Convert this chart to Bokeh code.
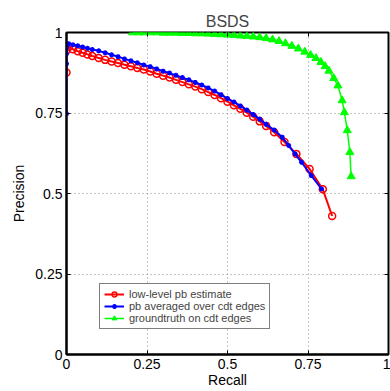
from bokeh.plotting import figure
from bokeh.models import LinearAxis, FixedTicker, Range1d, Legend, LegendItem
from bokeh.embed import file_html
from bokeh.resources import INLINE

# ---- data ----
red_recall = [0.0, 0.0, 0.007, 0.02, 0.035, 0.05, 0.065, 0.08, 0.10, 0.12, 0.14, 0.16, 0.18, 0.20,
              0.22, 0.24, 0.26, 0.28, 0.30, 0.32, 0.34, 0.36, 0.38, 0.40, 0.42, 0.44, 0.46, 0.48,
              0.50, 0.52, 0.54, 0.56, 0.58, 0.60, 0.62, 0.645, 0.677, 0.714, 0.755, 0.796, 0.825]
red_precision = [0.876, 0.944, 0.955, 0.948, 0.942, 0.937, 0.932, 0.927, 0.921, 0.915, 0.910, 0.905,
                 0.900, 0.895, 0.890, 0.885, 0.879, 0.872, 0.866, 0.860, 0.853, 0.846, 0.839, 0.832,
                 0.824, 0.815, 0.806, 0.796, 0.785, 0.774, 0.763, 0.751, 0.738, 0.724, 0.710, 0.690,
                 0.660, 0.623, 0.576, 0.513, 0.430]

blue_recall = [0.0, 0.0, 0.0, 0.007, 0.02, 0.035, 0.05, 0.065, 0.08, 0.10, 0.12, 0.14, 0.16, 0.18,
               0.20, 0.22, 0.24, 0.26, 0.28, 0.30, 0.32, 0.34, 0.36, 0.38, 0.40, 0.42, 0.44, 0.46,
               0.48, 0.50, 0.52, 0.54, 0.56, 0.58, 0.60, 0.62, 0.645, 0.67, 0.69, 0.71, 0.73, 0.76,
               0.792]
blue_precision = [0.748, 0.903, 0.934, 0.965, 0.962, 0.959, 0.955, 0.951, 0.947, 0.943, 0.937, 0.931,
                  0.925, 0.918, 0.912, 0.906, 0.899, 0.894, 0.887, 0.880, 0.874, 0.867, 0.860, 0.853,
                  0.845, 0.837, 0.828, 0.818, 0.807, 0.795, 0.784, 0.772, 0.759, 0.745, 0.731, 0.715,
                  0.697, 0.675, 0.649, 0.623, 0.597, 0.556, 0.514]

green_recall = [0.205, 0.225, 0.24, 0.26, 0.28, 0.30, 0.32, 0.34, 0.36, 0.38, 0.40, 0.42, 0.44, 0.46,
                0.48, 0.50, 0.52, 0.54, 0.56, 0.58, 0.60, 0.62, 0.64, 0.66, 0.68, 0.70, 0.72, 0.74,
                0.758, 0.775, 0.79, 0.803, 0.815, 0.83, 0.843, 0.856, 0.863, 0.872, 0.880, 0.884]
green_precision = [1.0, 1.0, 1.0, 1.0, 1.0, 0.999, 0.999, 0.999, 0.998, 0.998, 0.997, 0.997, 0.996,
                   0.995, 0.994, 0.993, 0.992, 0.990, 0.989, 0.987, 0.985, 0.982, 0.978, 0.973, 0.966,
                   0.958, 0.950, 0.940, 0.930, 0.920, 0.908, 0.895, 0.881, 0.858, 0.835, 0.789, 0.752,
                   0.696, 0.628, 0.553]

tick_values = [0, 0.25, 0.5, 0.75, 1]
tick_labels = ["0", "0.25", "0.5", "0.75", "1"]

series_labels = ["low-level pb estimate", "pb averaged over cdt edges", "groundtruth on cdt edges"]

FONT = "Liberation Sans"

p = figure(width=390, height=391, output_backend="svg", toolbar_location=None,
           x_range=Range1d(0, 1), y_range=Range1d(0, 1),
           min_border_left=66, min_border_right=2, min_border_top=32, min_border_bottom=37,
           title="BSDS")
p.background_fill_color = "white"
p.border_fill_color = "white"
p.outline_line_color = "black"
p.outline_line_width = 2

p.title.align = "center"
p.title.vertical_align = "middle"
p.title.text_font = FONT
p.title.text_font_size = "16px"
p.title.text_font_style = "normal"
p.title.standoff = 4

overrides = {v: l for v, l in zip(tick_values, tick_labels)}

for ax in (p.xaxis[0], p.yaxis[0]):
    ax.ticker = FixedTicker(ticks=tick_values)
    ax.major_label_overrides = overrides
    ax.major_label_text_font = FONT
    ax.major_label_text_font_size = "14px"
    ax.major_label_text_color = "black"
    ax.axis_label_text_font = FONT
    ax.axis_label_text_font_size = "14px"
    ax.axis_label_text_font_style = "normal"
    ax.axis_label_text_color = "black"
    ax.axis_line_color = "black"
    ax.axis_line_width = 2
    ax.major_tick_in = 4
    ax.major_tick_out = 0
    ax.major_tick_line_color = "black"
    ax.minor_tick_line_color = None

p.xaxis[0].axis_label = "Recall"
p.yaxis[0].axis_label = "Precision"
p.xaxis[0].major_label_standoff = 4
p.xaxis[0].axis_label_standoff = 0
p.yaxis[0].major_label_standoff = 4
p.yaxis[0].axis_label_standoff = 5

for side in ("right", "above"):
    ax = LinearAxis(ticker=FixedTicker(ticks=tick_values))
    ax.major_label_text_color = None
    ax.major_label_text_font_size = "1px"
    ax.major_label_standoff = 0
    ax.major_tick_in = 4
    ax.major_tick_out = 0
    ax.major_tick_line_color = "black"
    ax.minor_tick_line_color = None
    ax.axis_line_color = None
    p.add_layout(ax, side)

for g in (p.xgrid[0], p.ygrid[0]):
    g.ticker = FixedTicker(ticks=tick_values)
    g.grid_line_color = "#8c8c8c"
    g.grid_line_dash = "1 3"
    g.grid_line_width = 1

r_line = p.line(red_recall, red_precision, line_color="#ff0000", line_width=2)
r_mark = p.scatter(red_recall, red_precision, marker="circle", size=7, line_color="#ff0000",
                   fill_color=None, line_width=1.5)
b_line = p.line(blue_recall, blue_precision, line_color="#0000ff", line_width=2)
b_mark = p.scatter(blue_recall, blue_precision, marker="asterisk", size=5, line_color="#0000ff",
                   line_width=1.5)
g_line = p.line(green_recall, green_precision, line_color="#00ff00", line_width=1.5)
g_mark = p.scatter(green_recall, green_precision, marker="triangle", size=8, line_color="#00ff00",
                   fill_color="#00ff00", line_width=1)

items = [LegendItem(label=series_labels[0], renderers=[r_line, r_mark]),
         LegendItem(label=series_labels[1], renderers=[b_line, b_mark]),
         LegendItem(label=series_labels[2], renderers=[g_line, g_mark])]
legend = Legend(items=items, location=(33, 25))
legend.label_text_font = FONT
legend.label_text_font_size = "11px"
legend.label_text_line_height = 1.0
legend.label_height = 12
legend.glyph_height = 12
legend.glyph_width = 20
legend.label_standoff = 5
legend.spacing = 0
legend.padding = 4
legend.margin = 0
legend.border_line_color = "black"
legend.border_line_width = 1.5
legend.background_fill_alpha = 1
p.add_layout(legend, "center")

open("out.html", "w").write(file_html(p, INLINE))
